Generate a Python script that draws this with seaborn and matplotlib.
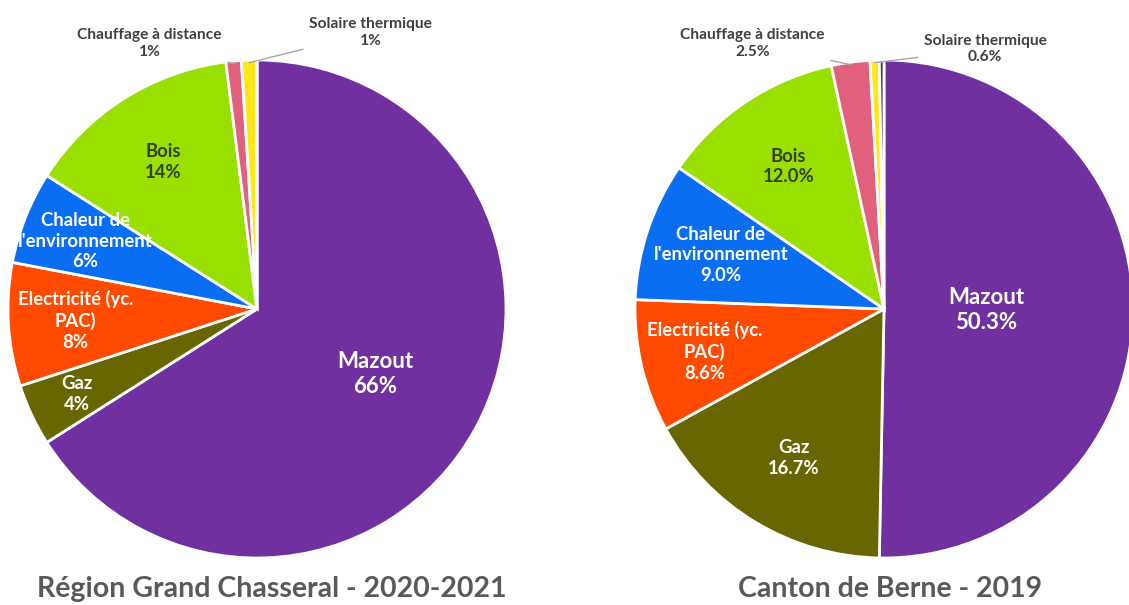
import numpy as np
import matplotlib
matplotlib.use("Agg")
import matplotlib.pyplot as plt
import seaborn as sns

sns.set_theme(style="white")
plt.rcParams["font.family"] = ["Lato", "DejaVu Sans"]

# Heating energy sources
categories = ["Mazout", "Gaz", "Electricité (yc.\nPAC)", "Chaleur de\nl'environnement",
              "Bois", "Chauffage à distance", "Solaire thermique", "Autre"]
region_values = [66, 4, 8, 6, 14, 1, 1, 0]
canton_values = [50.3, 16.7, 8.6, 9.0, 12.0, 2.5, 0.6, 0.3]
region_labels = ["66%", "4%", "8%", "6%", "14%", "1%", "1%", None]
canton_labels = ["50.3%", "16.7%", "8.6%", "9.0%", "12.0%", "2.5%", "0.6%", None]
titles = ["Région Grand Chasseral - 2020-2021", "Canton de Berne - 2019"]

palette = sns.color_palette(["#7030A0", "#686600", "#FF4A00", "#0A6EF2",
                             "#99E000", "#E0607E", "#FFE81A", "#3A3A55"])
text_colors = ["white", "white", "white", "white", "#34401E", "#404040", "#404040", None]

W, H = 1129, 605
fig = plt.figure(figsize=(W / 100, H / 100), dpi=100)
fig.patch.set_facecolor("white")

R = 249
layouts = [
    dict(cx=257, cy=309, values=region_values, pcts=region_labels,
         dist=[0.54, 0.80, 0.73, 0.74, 0.70],
         outside=[(112, 1.15), (67.7, 1.20)], title_x=272),
    dict(cx=884, cy=309, values=canton_values, pcts=canton_labels,
         dist=[0.41, 0.70, 0.74, 0.69, 0.69],
         outside=[(116.4, 1.19), (68.7, 1.12)], title_x=890),
]

for lay, title in zip(layouts, titles):
    ax = fig.add_axes([(lay["cx"] - R) / W, (H - lay["cy"] - R) / H, 2 * R / W, 2 * R / H])
    vals = lay["values"]
    wedges, _ = ax.pie(vals, colors=palette, startangle=90, counterclock=False,
                       radius=1.0, wedgeprops=dict(edgecolor="white", linewidth=2))
    ax.set_xlim(-1, 1)
    ax.set_ylim(-1, 1)
    ax.set_aspect("equal")
    ax.set_clip_on(False)
    ax.axis("off")

    for i, w in enumerate(wedges):
        mid = np.deg2rad((w.theta1 + w.theta2) / 2)
        pct = lay["pcts"][i]
        if pct is None:
            continue
        if i < 5:
            d = lay["dist"][i]
            size = 16 if i == 0 else 13.3
            ax.text(d * np.cos(mid), d * np.sin(mid), f"{categories[i]}\n{pct}",
                    ha="center", va="center", fontsize=size, fontweight="bold",
                    color=text_colors[i], linespacing=1.25)
        else:
            ang, d = lay["outside"][i - 5]
            a = np.deg2rad(ang)
            ax.annotate(f"{categories[i]}\n{pct}",
                        xy=(0.99 * np.cos(mid), 0.99 * np.sin(mid)),
                        xytext=(d * np.cos(a), d * np.sin(a)),
                        ha="center", va="center", fontsize=11.2, fontweight="bold",
                        color=text_colors[i], linespacing=1.2,
                        arrowprops=dict(arrowstyle="-", color="#A6A6A6", lw=1,
                                        shrinkA=2, shrinkB=0))

    fig.text(lay["title_x"] / W, 1 - 589 / H, title, ha="center", va="center",
             fontsize=20.5, fontweight="bold", color="#595959")

fig.savefig("out.png", dpi=100, facecolor="white")
